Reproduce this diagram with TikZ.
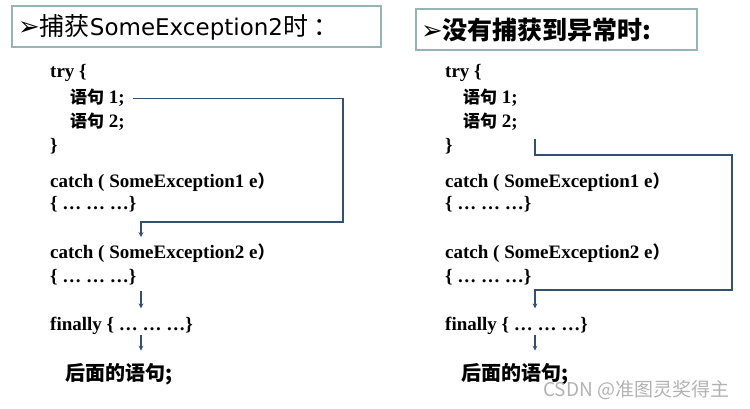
\documentclass[tikz,border=0pt]{standalone}
\usepackage{fontspec}
\setmainfont{Liberation Serif}
\newfontfamily\cjk{Noto Sans CJK SC}
\newfontfamily\symb{DejaVu Sans}
\usetikzlibrary{positioning}
\usetikzlibrary{calc}
\definecolor{flowblue}{RGB}{52,80,112}
\definecolor{boxgray}{RGB}{150,180,180}
\newcommand{\zh}[1]{{\cjk\fontsize{17}{17}\selectfont #1}}
\newcommand{\pointer}{{\symb\fontsize{26}{26}\selectfont ➢}}
\tikzset{
    code/.style={anchor=base west, inner sep=0pt,
            font=\fontsize{19}{19}\selectfont\bfseries},
    after/.style={anchor=base west, inner sep=0pt,
            font=\cjk\fontsize{20}{20}\selectfont\bfseries},
    titlebox/.style={draw=boxgray, line width=1.5pt},
    flow/.style={-stealth, draw=flowblue, line width=1.2pt}
    }

\begin{document}
\begin{tikzpicture}[x=1pt, y=-1pt]
    \useasboundingbox (0,0) rectangle (750,409);

    % titles
    \draw [titlebox] (12,6) rectangle (381,47);
    \node [anchor=west, inner sep=0pt] (titleL) at (18,27)
        {\pointer{\cjk\fontsize{25}{25}\selectfont 捕获}{\symb\fontsize{23}{23}\selectfont SomeException2}{\cjk\fontsize{25}{25}\selectfont 时\hspace{5pt}：}};
    \draw [titlebox] (416,9) rectangle (697,50);
    \node [anchor=west, inner sep=0pt] (titleR) at (421,30)
        {\pointer{\cjk\bfseries\fontsize{25}{25}\selectfont 没有捕获到异常时:}};

    % left column
    \node [code] (tryL) at (50,78) {try \{};
    \node [code] (s1L) at (70,104) {\zh{语句} 1;};
    \node [code] (s2L) at (70,128) {\zh{语句} 2;};
    \node [code] (endL) at (50,152) {\}};
    \node [code] (c1L) at (50,188) {catch ( SomeException1 e\zh{）}};
    \node [code] (b1L) at (50,210) {\{ … … …\}};
    \node [code] (c2L) at (50,258) {catch ( SomeException2 e\zh{）}};
    \node [code] (b2L) at (50,282) {\{ … … …\}};
    \node [code] (finL) at (50,330) {finally \{ … … …\}};
    \node [after] (nextL) at (65,380) {后面的语句;};

    % right column
    \node [code] (tryR) at (445,78) {try \{};
    \node [code] (s1R) at (463,104) {\zh{语句} 1;};
    \node [code] (s2R) at (463,128) {\zh{语句} 2;};
    \node [code] (endR) at (445,152) {\}};
    \node [code] (c1R) at (445,188) {catch ( SomeException1 e\zh{）}};
    \node [code] (b1R) at (445,210) {\{ … … …\}};
    \node [code] (c2R) at (445,258) {catch ( SomeException2 e\zh{）}};
    \node [code] (b2R) at (445,282) {\{ … … …\}};
    \node [code] (finR) at (445,330) {finally \{ … … …\}};
    \node [after] (nextR) at (461,380) {后面的语句;};

    % flow, left
    \coordinate (arrL) at (141,0);
    \coordinate (loopL) at (343,222);
    \draw [flow] ([xshift=8pt]s1L.east) -| (loopL) -| ([yshift=6pt]arrL |- c2L.north);
    \draw [flow] ([yshift=-6pt]arrL |- b2L.south) -- ([yshift=8pt]arrL |- finL.north);
    \draw [flow] ([yshift=-1pt]arrL |- finL.south) -- ([yshift=12pt]arrL |- nextL.north);

    % flow, right
    \coordinate (arrR) at (535,0);
    \coordinate (loopR) at (732,155);
    \coordinate (turnR) at (732,290);
    \draw [flow] ([yshift=-8pt]arrR |- s2R.south) |- (loopR) -- (turnR) -| ([yshift=8pt]arrR |- finR.north);
    \draw [flow] ([yshift=-1pt]arrR |- finR.south) -- ([yshift=12pt]arrR |- nextR.north);

    \node [anchor=west, inner sep=0pt, text=black!30, font=\cjk\fontsize{19}{19}\selectfont] (mark) at (543,390) {CSDN @准图灵奖得主};
\end{tikzpicture}
\end{document}
